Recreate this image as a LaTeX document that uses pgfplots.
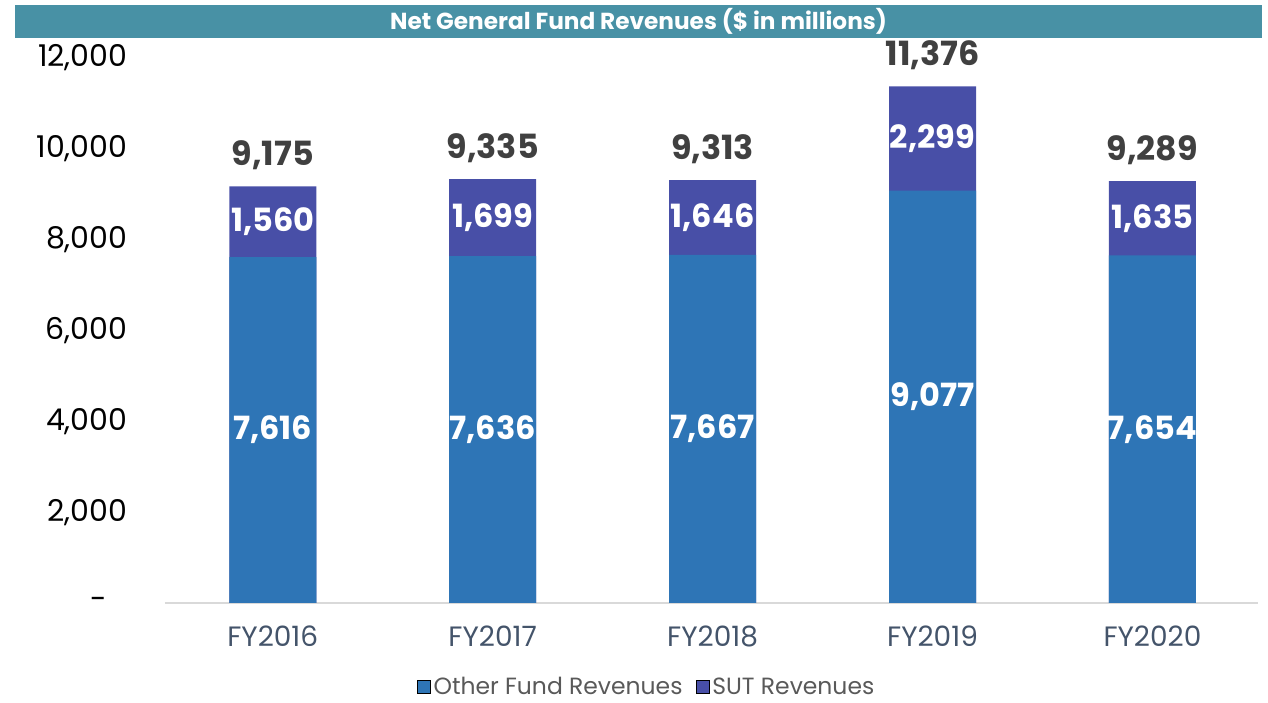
\documentclass[border=0pt]{standalone}
\usepackage{pgfplots}
\usepackage{pgfplotstable}
\pgfplotsset{compat=1.18}
\usepackage{fontspec}
\setmainfont{Poppins}
\definecolor{blueC}{HTML}{2E75B6}
\definecolor{purpC}{HTML}{484FA7}
\definecolor{bandC}{HTML}{4891A5}
\definecolor{totC}{HTML}{404040}
\definecolor{xlabC}{HTML}{44546A}
\definecolor{legC}{HTML}{595959}
\pgfplotstableread{
x other sut total
0 7616 1560 9175
1 7636 1699 9335
2 7667 1646 9313
3 9077 2299 11376
4 7654 1635 9289
}\data
\begin{document}
\begin{tikzpicture}
\path[use as bounding box] (0,0) rectangle (951pt,527.25pt);
\fill[bandC] (11.25pt,498.75pt) rectangle (946.5pt,523.5pt);
\node[text=white,font=\fontsize{17.4}{19}\selectfont\bfseries] at (478.9pt,511.1pt) {Net General Fund Revenues (\$ in millions)};
\begin{axis}[
  at={(123.75pt,75pt)}, anchor=south west,
  scale only axis, width=819.75pt, height=408.75pt,
  xmin=-0.49, xmax=4.48, ymin=0, ymax=12000,
  scaled y ticks=false,
  axis lines*=left,
  y axis line style={draw=none},
  x axis line style={draw=black!15, line width=1.5pt},
  tick style={draw=none},
  xtick={0,1,2,3,4},
  xticklabels={FY2016,FY2017,FY2018,FY2019,FY2020},
  ytick={0,2000,4000,6000,8000,10000,12000},
  yticklabels={{\hbox{-\kern15pt}},{2,000},{4,000},{6,000},{8,000},{10,000},{12,000}},
  yticklabel style={font=\fontsize{22.5}{24}\selectfont, text=black, inner sep=0pt, xshift=-28pt},
  xticklabel style={font=\fontsize{21}{23}\selectfont, text=xlabC, inner sep=0pt, yshift=-17pt},
  /pgf/number format/.cd, 1000 sep={,}, assume math mode=true,
  /pgfplots/.cd,
  legend style={at={(0.441,-0.154)}, anchor=center, draw=none, fill=none,
    legend columns=2, font=\fontsize{17.6}{19}\selectfont, text=legC,
    /tikz/every even column/.append style={column sep=8pt}},
  legend image code/.code={\fill[#1] (0pt,-5pt) rectangle (10pt,5pt);},
  clip=false,
]
\addlegendimage{fill=blueC}
\addlegendentry{Other Fund Revenues}
\addlegendimage{fill=purpC}
\addlegendentry{SUT Revenues}
\addplot[ybar, bar width=65.25pt, bar shift=0pt, fill=purpC, draw=none, forget plot] table[x=x,y=total]{\data};
\addplot[ybar, bar width=65.25pt, bar shift=0pt, fill=blueC, draw=none, forget plot] table[x=x,y=other]{\data};
\addplot[draw=none, mark=none, forget plot, point meta=explicit, nodes near coords,
  nodes near coords style={anchor=center, text=white, inner sep=0pt, font=\fontsize{24}{26}\selectfont\bfseries}]
  table[x=x, y expr=\thisrow{other}/2, meta=other]{\data};
\addplot[draw=none, mark=none, forget plot, point meta=explicit, nodes near coords,
  nodes near coords style={anchor=center, text=white, inner sep=0pt, font=\fontsize{24}{26}\selectfont\bfseries}]
  table[x=x, y expr=\thisrow{other}+\thisrow{sut}/2, meta=sut]{\data};
\addplot[draw=none, mark=none, forget plot, point meta=explicit, nodes near coords,
  nodes near coords style={anchor=south, text=totC, inner sep=0pt, yshift=12pt, font=\fontsize{25}{27}\selectfont\bfseries}]
  table[x=x, y=total, meta=total]{\data};
\end{axis}
\end{tikzpicture}
\end{document}
